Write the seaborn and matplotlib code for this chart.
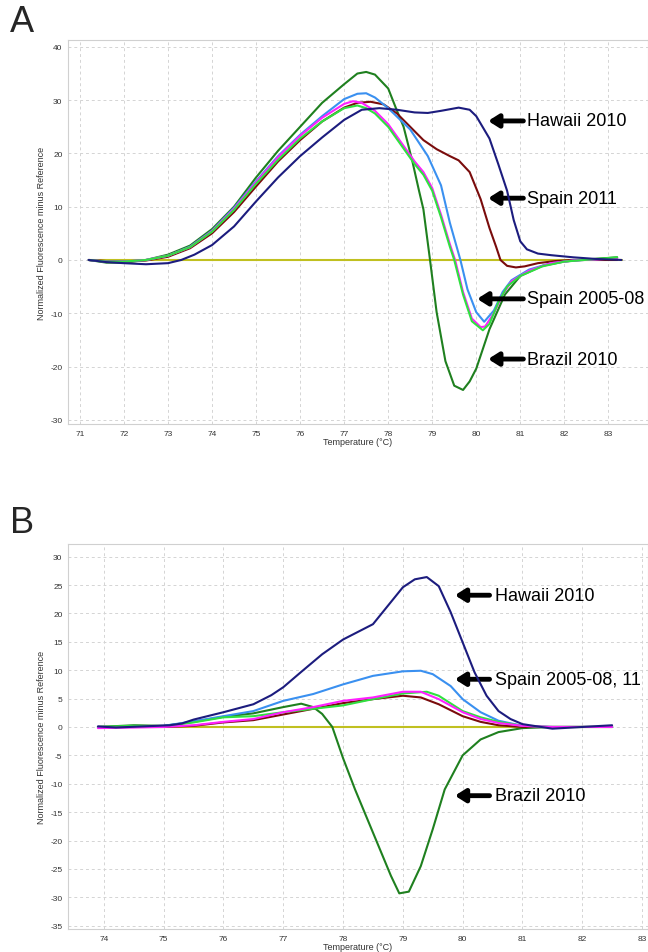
import numpy as np
import pandas as pd
import matplotlib
matplotlib.use("Agg")
import matplotlib.pyplot as plt
import seaborn as sns

# ---------------- Panel A data ----------------
a_hawaii_x = [71.2, 71.6, 72.0, 72.5, 73.0, 73.3, 73.6, 74.0, 74.5, 75.0, 75.5, 76.0, 76.5, 77.0, 77.4, 77.8,
              78.2, 78.6, 78.9, 79.2, 79.6, 79.85, 80.0, 80.3, 80.5, 80.7, 80.85, 81.0, 81.15, 81.4, 81.7, 82.2, 82.7, 83.3]
a_hawaii_y = [0, -0.4, -0.6, -0.8, -0.6, 0, 1, 2.8, 6.3, 11, 15.5, 19.5, 23, 26.3, 28.2, 28.5,
              28.2, 27.7, 27.6, 28.0, 28.6, 28.2, 27.0, 22.8, 18, 13, 7.5, 3.5, 2.0, 1.2, 0.9, 0.5, 0.2, 0]

a_sp11_x = [71.2, 71.6, 72.0, 72.5, 73.0, 73.5, 74.0, 74.5, 75.0, 75.5, 76.0, 76.5, 77.0, 77.3, 77.6, 77.9,
            78.2, 78.5, 78.8, 79.1, 79.4, 79.6, 79.85, 80.1, 80.3, 80.45, 80.55, 80.7, 80.9, 81.1, 81.4, 81.8, 82.2, 83.2]
a_sp11_y = [0, -0.2, -0.3, -0.1, 0.6, 2.2, 5, 9, 13.8, 18.5, 22.5, 26, 28.6, 29.5, 29.7, 29.2,
            27.5, 25, 22.5, 20.8, 19.5, 18.7, 16.5, 11.4, 6, 2.5, 0, -1.1, -1.4, -1.2, -0.6, -0.2, 0, 0]

a_blue_x = [71.2, 71.6, 72.0, 72.5, 73.0, 73.5, 74.0, 74.5, 75.0, 75.5, 76.0, 76.5, 77.0, 77.3, 77.5, 77.7,
            78.0, 78.5, 78.9, 79.2, 79.4, 79.64, 79.8, 80.0, 80.18, 80.4, 80.6, 80.8, 81.2, 81.7, 82.2, 83.2]
a_blue_y = [0, -0.3, -0.3, 0, 0.8, 2.5, 5.5, 9.8, 14.8, 19.5, 23.5, 27, 30.2, 31.2, 31.3, 30.5,
            28.5, 24.5, 19.5, 14, 7, 0, -5.5, -9.8, -11.6, -9.5, -6, -3.8, -1.8, -0.6, -0.1, 0.3]

a_mag_x = [71.2, 71.6, 72.0, 72.5, 73.0, 73.5, 74.0, 74.5, 75.0, 75.5, 76.0, 76.5, 77.0, 77.2, 77.4, 77.7,
           78.0, 78.3, 78.6, 78.8, 79.0, 79.2, 79.4, 79.52, 79.7, 79.9, 80.1, 80.2, 80.4, 80.6, 80.8, 81.2, 81.7, 82.2, 83.2]
a_mag_y = [0, -0.3, -0.3, 0, 0.8, 2.4, 5.4, 9.6, 14.6, 19.3, 23.3, 26.7, 29.3, 29.8, 29.5, 28,
           25.5, 22, 18.5, 16.5, 13.5, 8.5, 3, 0, -6, -11, -12.6, -12.5, -10, -6.5, -4, -2, -0.6, -0.1, 0.3]

a_lime_x = [71.2, 71.6, 72.0, 72.5, 73.0, 73.5, 74.0, 74.5, 75.0, 75.5, 76.0, 76.5, 77.0, 77.3, 77.5, 77.7,
            78.0, 78.3, 78.6, 78.8, 79.0, 79.2, 79.4, 79.5, 79.7, 79.9, 80.15, 80.3, 80.5, 80.7, 81.0, 81.5, 82.0, 83.2]
a_lime_y = [0, -0.3, -0.3, 0, 0.8, 2.4, 5.3, 9.4, 14.3, 18.8, 22.8, 26, 28.5, 29, 28.5, 27.5,
            25, 21.5, 18, 16, 13, 8, 2.5, 0, -6.5, -11.5, -13.2, -12, -8, -5, -3, -1.2, -0.3, 0.5]

a_brazil_x = [71.2, 71.6, 72.0, 72.5, 73.0, 73.5, 74.0, 74.5, 75.0, 75.5, 76.0, 76.5, 77.0, 77.3, 77.5, 77.7,
              78.0, 78.2, 78.35, 78.55, 78.7, 78.8, 78.95, 79.1, 79.3, 79.5, 79.7, 79.85, 80.0, 80.3, 80.65,
              81.0, 81.5, 82.0, 82.5, 83.2]
a_brazil_y = [0, -0.5, -0.5, 0, 1, 2.7, 5.8, 10, 15.5, 20.5, 25, 29.5, 33, 35, 35.3, 34.8,
              32.2, 28, 25, 18.5, 13, 9.5, 0, -9.8, -19, -23.6, -24.4, -22.8, -20.4, -13, -6.5,
              -3, -1.1, -0.3, 0.1, 0.5]

a_base_x = [71.2, 83.3]
a_base_y = [0, 0]

# ---------------- Panel B data ----------------
b_hawaii_x = [73.9, 74.2, 75.1, 75.3, 75.5, 76.0, 76.5, 76.8, 77.0, 77.3, 77.65, 78.0, 78.5, 79.0, 79.2, 79.4,
              79.6, 79.8, 80.0, 80.2, 80.4, 80.6, 80.8, 81.0, 81.5, 82.0, 82.5]
b_hawaii_y = [0.1, -0.1, 0.3, 0.6, 1.3, 2.6, 4, 5.6, 7, 9.7, 12.8, 15.4, 18.1, 24.6, 26, 26.4,
              24.8, 20.2, 14.9, 9.6, 5.5, 2.8, 1.4, 0.5, -0.3, 0, 0.3]

b_blue_x = [73.9, 74.5, 75.0, 75.5, 76.0, 76.5, 77.0, 77.5, 78.0, 78.5, 79.0, 79.3, 79.5, 79.8, 80.0,
            80.3, 80.6, 81.0, 81.5, 82.5]
b_blue_y = [0, 0, 0.2, 1, 1.9, 2.8, 4.6, 5.8, 7.5, 9.0, 9.8, 9.9, 9.3, 7.2, 4.9,
            2.6, 1.1, 0.2, 0, 0]

b_mag_x = [73.9, 74.5, 75.0, 75.5, 76.0, 76.5, 77.0, 77.5, 78.0, 78.5, 79.0, 79.3, 79.6, 80.0, 80.3,
           80.6, 81.0, 81.5, 82.5]
b_mag_y = [-0.2, -0.1, 0, 0.3, 0.9, 1.4, 2.6, 3.5, 4.6, 5.2, 6.2, 6.2, 4.9, 2.6, 1.4,
           0.7, 0.2, 0, 0]

b_lime_x = [73.9, 74.5, 75.0, 75.5, 76.0, 76.5, 77.0, 77.5, 78.0, 78.5, 79.0, 79.4, 79.6, 80.0, 80.3,
            80.6, 81.0, 81.5, 82.5]
b_lime_y = [0, 0.2, 0.1, 0.8, 1.7, 1.9, 2.6, 3.2, 3.8, 4.9, 5.9, 6.2, 5.5, 2.8, 1.7,
            0.9, 0.2, 0, 0]

b_sp11_x = [73.9, 74.5, 75.0, 75.5, 76.0, 76.5, 77.0, 77.5, 78.0, 78.5, 79.0, 79.3, 79.6, 80.0, 80.3,
            80.6, 81.0, 81.5, 82.5]
b_sp11_y = [0, 0, 0, 0.2, 0.8, 1.2, 2.2, 3.2, 4.2, 4.9, 5.5, 5.2, 4.0, 1.9, 0.9,
            0.3, 0, 0, 0]

b_brazil_x = [73.9, 74.5, 75.0, 75.5, 76.0, 76.5, 77.0, 77.3, 77.5, 77.65, 77.82, 78.0, 78.2, 78.5, 78.8,
              78.94, 79.1, 79.3, 79.5, 79.7, 80.0, 80.3, 80.6, 81.0, 81.5, 82.5]
b_brazil_y = [0, 0.3, 0.2, 0.9, 1.8, 2.4, 3.5, 4.1, 3.5, 2.3, 0, -5.5, -11, -18.6, -26.2,
              -29.3, -29.0, -24.5, -18, -11, -5, -2.2, -0.9, -0.2, 0, 0]

b_base_x = [73.9, 82.5]
b_base_y = [0, 0]

# ---------------- styling ----------------
C_NAVY = "#1c1c7e"
C_RED = "#7a0c0c"
C_BLUE = "#3a90f0"
C_MAG = "#ff20ff"
C_LIME = "#30e040"
C_DGREEN = "#1f801f"
C_BASE = "#c0c020"

sns.set_style("white")
plt.rcParams['font.family'] = ['Liberation Sans', 'DejaVu Sans']
plt.rcParams['axes.unicode_minus'] = False

fig = plt.figure(figsize=(6.48, 9.53), dpi=100)
axA = fig.add_axes([0.105, 0.554, 0.895, 0.403])
axB = fig.add_axes([0.105, 0.024, 0.895, 0.404])


def draw(ax, series):
    for x, y, c, z in series:
        sns.lineplot(x=x, y=y, color=c, ax=ax, lw=1.5, estimator=None, sort=False, zorder=z)


draw(axA, [
    (a_base_x, a_base_y, C_BASE, 2),
    (a_brazil_x, a_brazil_y, C_DGREEN, 3),
    (a_sp11_x, a_sp11_y, C_RED, 3),
    (a_blue_x, a_blue_y, C_BLUE, 3),
    (a_mag_x, a_mag_y, C_MAG, 3),
    (a_lime_x, a_lime_y, C_LIME, 3),
    (a_hawaii_x, a_hawaii_y, C_NAVY, 4),
])
draw(axB, [
    (b_base_x, b_base_y, C_BASE, 2),
    (b_brazil_x, b_brazil_y, C_DGREEN, 3),
    (b_sp11_x, b_sp11_y, C_RED, 3),
    (b_blue_x, b_blue_y, C_BLUE, 3),
    (b_lime_x, b_lime_y, C_LIME, 3),
    (b_mag_x, b_mag_y, C_MAG, 3),
    (b_hawaii_x, b_hawaii_y, C_NAVY, 4),
])

axA.set_xlim(70.73, 83.9)
axA.set_ylim(-30.8, 41.3)
axA.set_xticks(range(71, 84))
axA.set_yticks(range(-30, 41, 10))

axB.set_xlim(73.4, 83.1)
axB.set_ylim(-35.6, 32.2)
axB.set_xticks(range(74, 84))
axB.set_yticks(range(-35, 31, 5))

for ax in (axA, axB):
    ax.grid(True, color="#d4d4d4", linestyle=(0, (3, 3)), lw=0.7)
    ax.set_axisbelow(True)
    for s in ax.spines.values():
        s.set_color("#d0d0d0")
        s.set_linewidth(0.8)
    ax.tick_params(axis='both', length=0, labelsize=6, colors="#333333", pad=4)
    ax.set_xlabel("Temperature (°C)", fontsize=6.5, color="#333333", labelpad=0)
    ax.set_ylabel("Normalized Fluorescence minus Reference", fontsize=6.5, color="#333333", labelpad=3)
    ax.set_facecolor("white")

arrow_kw = dict(arrowstyle="-|>,head_length=0.6,head_width=0.38", lw=3.5, color="black",
                shrinkA=0, shrinkB=0)

labelsA = ["Hawaii 2010", "Spain 2011", "Spain 2005-08", "Brazil 2010"]
tipxA = [80.27, 80.27, 80.02, 80.27]
tipyA = [26.1, 11.6, -7.3, -18.6]
for lab, tx, ty in zip(labelsA, tipxA, tipyA):
    axA.annotate("", xy=(tx, ty), xytext=(81.07, ty), arrowprops=arrow_kw)
    axA.text(81.16, ty, lab, fontsize=13, va="center", ha="left", color="black")

labelsB = ["Hawaii 2010", "Spain 2005-08, 11", "Brazil 2010"]
tipxB = [79.87, 79.87, 79.87]
tipyB = [23.2, 8.4, -12.1]
for lab, tx, ty in zip(labelsB, tipxB, tipyB):
    axB.annotate("", xy=(tx, ty), xytext=(80.45, ty), arrowprops=arrow_kw)
    axB.text(80.54, ty, lab, fontsize=13, va="center", ha="left", color="black")

fig.text(0.016, 0.976, "A", fontsize=26, va="center", ha="left")
fig.text(0.016, 0.451, "B", fontsize=26, va="center", ha="left")

fig.savefig("out.png", dpi=100, facecolor="white")
